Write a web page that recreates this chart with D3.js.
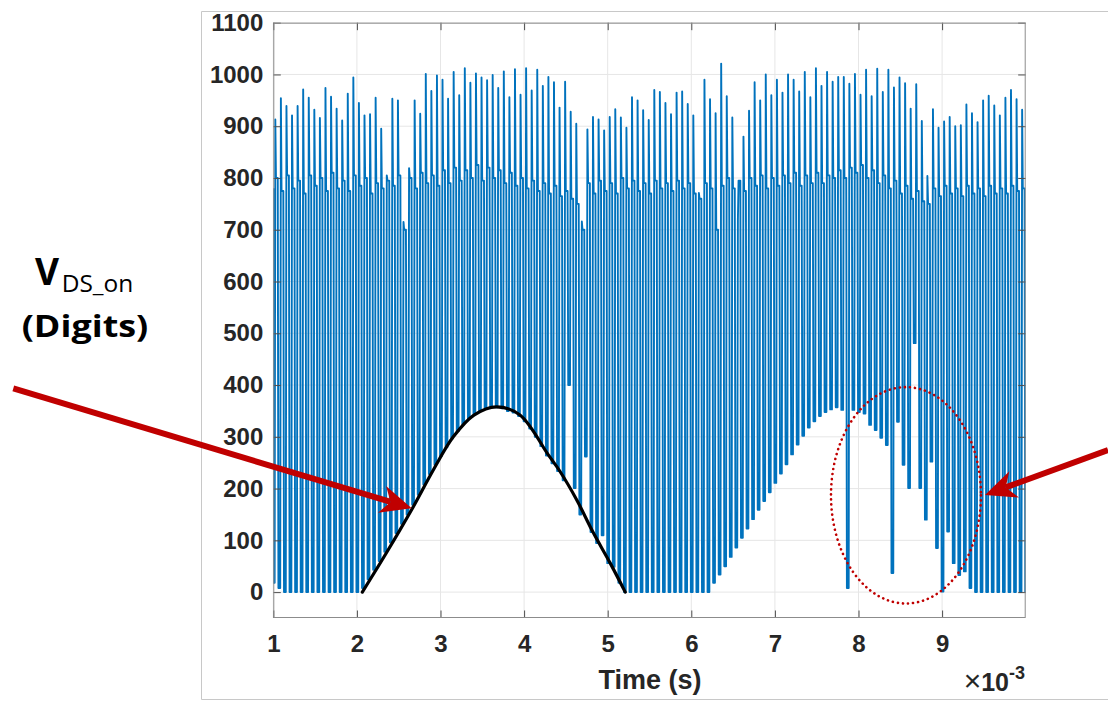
<!DOCTYPE html>
<html>
<head>
<meta charset="utf-8">
<script src="https://cdn.jsdelivr.net/npm/d3@7"></script>
<style>
  html, body { margin: 0; padding: 0; background: #ffffff; }
  svg { display: block; }
</style>
</head>
<body>
<svg id="chart" width="1108" height="701"></svg>
<script>
// ---- switching waveform: one spike per 15 kHz period (time in ms) ----
const startTime = 1.0;          // first sample, ms
const startValue = 780;         // level at the first sample
const firstDropTime = 1.006;    // first turn-on edge, ms
const firstPeakTime = 1.024;    // ms
const switchPeriod = 1 / 15;    // ms (15 kHz)
const endTime = 10.0;

// overshoot peak of every switching event
const peaks = [
  913, 954, 939, 921, 939, 971, 955, 932, 916, 974, 957, 934, 911, 963, 994, 945, 921, 923, 955, 895,
  805, 953, 950, 715, 819, 950, 924, 1001, 968, 998, 990, 953, 1005,
  960, 1012, 984, 1002, 994, 989, 999, 974, 1006, 956, 1010, 961, 1012, 969, 1009, 978, 995, 985,
  936, 986, 928, 905, 716, 894, 918, 913, 892, 918, 933, 917, 897, 956, 950, 931, 912, 970, 966,
  945, 923, 965, 967, 943, 921, 771, 990, 952, 925, 1021, 958, 917, 720,
  880, 930, 985, 950, 1000, 960, 990,
  965, 1000, 990, 967, 1005, 956, 1012, 978, 1005, 986, 995, 995, 982, 1001, 961, 1009, 958, 1011,
  966, 1009, 975, 994, 983, 934, 981, 910, 804, 933, 897, 909, 918, 900, 902, 942, 925, 908, 950,
  959, 940, 921, 955, 970, 952, 932
];

// on-state level (V_DS_on) reached before each switching event
const floors = [
  18, 8, 0, 0, 0, 0, 0, 0, 0, 0, 0, 0, 0, 0, 0, 0,
  8, 25, 43, 60, 78, 96, 114, 132, 150, 169, 188, 208, 228, 246, 263, 280, 297, 311, 324, 335,
  344, 350, 355, 357, 357, 355, 350, 347, 340, 330, 316, 300, 282, 264, 249, 234, 216, 400, 201,
  150, 262, 116, 95, 110, 56, 49, 18,
  0, 0, 0, 0, 0, 0, 0, 0, 0, 0, 0, 0, 0, 0, 0, 0,
  18, 34, 50, 68, 86, 105, 123, 141, 159, 176, 193, 211, 229, 247, 266, 285, 302, 318, 330, 340,
  348, 353, 357, 352,
  8, 352, 348, 345, 323, 313, 298, 284, 37, 329, 246, 201, 481, 201, 140, 252, 85, 1, 117, 56,
  33, 40, 8,
  0, 0, 0, 0, 0, 0, 0, 0, 0
];
const finalFloor = 0;

// off-state plateau after each overshoot (ringing)
const plateaus = [
  800, 775, 805, 780, 795, 770, 805, 785, 800, 775, 810, 780, 795, 775, 805, 785, 800, 770, 790, 780,
  795, 785, 805, 700, 800, 780, 810, 790, 805, 785, 815, 790, 820, 795, 815, 800, 825, 795, 820, 800,
  815, 790, 810, 785, 800, 780, 795, 775, 790, 770, 785, 765, 775, 760, 750,
  700,
  790, 770, 795, 775, 790, 770, 800, 780, 795, 775, 790, 770, 795, 780, 790, 775, 795, 780, 790, 770,
  760, 790, 780, 700,
  785, 800, 780, 795, 775, 800, 785, 805, 780, 800, 785, 805, 790, 810, 785, 805, 790, 810, 790, 805,
  800, 815, 800, 820,
  810, 825, 800, 815, 790, 805, 780, 795, 770, 785, 760, 775, 755, 750,
  780, 765, 785, 770, 780, 765, 785, 770, 780, 765, 785, 770, 780, 770, 785, 775, 780
];

// hand-drawn envelope of the on-state voltage
const envelopeTime  = [2.065, 2.35, 2.675, 2.914, 3.153, 3.40, 3.67, 3.95, 4.29, 4.43, 4.63, 4.83, 5.03, 5.21];
const envelopeValue = [0, 75, 165, 236, 300, 342, 358, 342, 265, 233, 178, 114, 56, 0];

// highlighted irregular region (centre and half-axes in data units)
const highlightCenter = [8.568, 187];
const highlightRadius = [0.897, 209];

const xTicks = [1, 2, 3, 4, 5, 6, 7, 8, 9];
const yTicks = [0, 100, 200, 300, 400, 500, 600, 700, 800, 900, 1000, 1100];

// ---- layout ----
const svg = d3.select("#chart");
const plot = { left: 273.3, right: 1025.7, top: 22.7, bottom: 618 };
const x = d3.scaleLinear().domain([1, 10]).range([plot.left, plot.right]);
const y = d3.scaleLinear().domain([-50, 1100]).range([plot.bottom, plot.top]);

const darkRed = "#c00000";
const blue = "#0072bd";
const tickFont = "'Liberation Sans', Arial, Helvetica, sans-serif";

// figure frame
svg.append("path")
  .attr("d", "M201.5,11.5H1108M201.5,11.5V699.5M201.5,699.5H1108")
  .attr("fill", "none").attr("stroke", "#c8c8c8").attr("stroke-width", 1);

// grid
const grid = svg.append("g");
grid.selectAll("line.gx").data(xTicks).join("line")
  .attr("x1", d => x(d)).attr("x2", d => x(d))
  .attr("y1", plot.top).attr("y2", plot.bottom)
  .attr("stroke", "#e6e6e6").attr("stroke-width", 1);
grid.selectAll("line.gy").data(yTicks).join("line")
  .attr("x1", plot.left).attr("x2", plot.right)
  .attr("y1", d => y(d)).attr("y2", d => y(d))
  .attr("stroke", "#e6e6e6").attr("stroke-width", 1);

// waveform: rise to the overshoot, settle on the plateau, drop to the on-state level
const edge = 0.008;       // rise / fall duration, ms
const dropEdge = 0.004;   // half of the turn-on edge, ms
const samples = [[startTime, startValue], [firstDropTime, floors[0]]];
peaks.forEach((pk, i) => {
  const p = firstPeakTime + i * switchPeriod;
  const nextFloor = i + 1 < floors.length ? floors[i + 1] : finalFloor;
  samples.push([p - edge, floors[i]]);
  samples.push([p, pk]);
  samples.push([p + edge, plateaus[i]]);
  samples.push([p + switchPeriod / 2 - dropEdge, plateaus[i]]);
  samples.push([p + switchPeriod / 2 + dropEdge, nextFloor]);
});
samples.push([endTime, finalFloor]);

svg.append("clipPath").attr("id", "plotClip")
  .append("rect")
  .attr("x", plot.left).attr("y", plot.top)
  .attr("width", plot.right - plot.left).attr("height", plot.bottom - plot.top);

svg.append("path")
  .datum(samples)
  .attr("clip-path", "url(#plotClip)")
  .attr("fill", "none")
  .attr("stroke", blue)
  .attr("stroke-width", 1.9)
  .attr("stroke-linejoin", "round")
  .attr("d", d3.line().x(d => x(d[0])).y(d => y(d[1])));

// axes (ticks pointing inward, box all round)
function styleAxis(g, showLabels) {
  g.select(".domain").remove();
  g.selectAll(".tick line").attr("stroke", "#4d4d4d").attr("stroke-width", 1);
  g.selectAll(".tick text")
    .attr("fill", "#262626")
    .attr("font-family", tickFont)
    .attr("font-weight", "bold")
    .attr("font-size", 24)
    .style("display", showLabels ? null : "none");
}
svg.append("g").attr("transform", `translate(0,${plot.bottom})`)
  .call(d3.axisBottom(x).tickValues(xTicks).tickSizeInner(-7.5).tickSizeOuter(0).tickPadding(17).tickFormat(d3.format("d")))
  .call(g => styleAxis(g, true));
svg.append("g").attr("transform", `translate(0,${plot.top})`)
  .call(d3.axisTop(x).tickValues(xTicks).tickSizeInner(-7.5).tickSizeOuter(0))
  .call(g => styleAxis(g, false));
svg.append("g").attr("transform", `translate(${plot.left},0)`)
  .call(d3.axisLeft(y).tickValues(yTicks).tickSizeInner(-7.5).tickSizeOuter(0).tickPadding(10).tickFormat(d3.format("d")))
  .call(g => styleAxis(g, true));
svg.append("g").attr("transform", `translate(${plot.right},0)`)
  .call(d3.axisRight(y).tickValues(yTicks).tickSizeInner(-7.5).tickSizeOuter(0))
  .call(g => styleAxis(g, false));

svg.append("rect")
  .attr("x", plot.left + 0.5).attr("y", plot.top + 0.5)
  .attr("width", plot.right - plot.left - 1).attr("height", plot.bottom - plot.top - 1)
  .attr("fill", "none").attr("stroke", "#8c8c8c").attr("stroke-width", 1);

// envelope curve
svg.append("path")
  .datum(envelopeTime.map((t, i) => [t, envelopeValue[i]]))
  .attr("fill", "none").attr("stroke", "#000").attr("stroke-width", 3.2)
  .attr("stroke-linecap", "round")
  .attr("d", d3.line().x(d => x(d[0])).y(d => y(d[1])).curve(d3.curveCatmullRom));

// axis titles
svg.append("text")
  .attr("x", 650).attr("y", 689)
  .attr("text-anchor", "middle")
  .attr("font-family", tickFont).attr("font-weight", "bold").attr("font-size", 27)
  .attr("fill", "#262626")
  .text("Time (s)");

const exp = svg.append("text")
  .attr("x", 1025).attr("y", 691)
  .attr("text-anchor", "end")
  .attr("font-family", tickFont).attr("fill", "#262626");
exp.append("tspan").attr("font-size", 30).attr("font-weight", "normal").text("×");
exp.append("tspan").attr("font-size", 25).attr("font-weight", "bold").text("10");
exp.append("tspan").attr("font-size", 18).attr("font-weight", "bold").attr("dy", -12).text("-3");

// V_DS_on label
const labelFont = "'Open Sans', 'Noto Sans', sans-serif";
svg.append("text")
  .attr("x", 35).attr("y", 285)
  .attr("font-family", labelFont).attr("font-weight", "bold").attr("font-size", 37)
  .attr("fill", "#000")
  .text("V");
svg.append("text")
  .attr("x", 61.7).attr("y", 291.7)
  .attr("font-family", labelFont).attr("font-weight", "normal").attr("font-size", 23)
  .attr("textLength", 71.6).attr("lengthAdjust", "spacingAndGlyphs")
  .attr("fill", "#000")
  .text("DS_on");
svg.append("text")
  .attr("x", 21.7).attr("y", 337.3)
  .attr("font-family", labelFont).attr("font-weight", "bold").attr("font-size", 31)
  .attr("textLength", 126.6).attr("lengthAdjust", "spacingAndGlyphs")
  .attr("fill", "#000")
  .text("(Digits)");

// pointer arrows
function arrow(tail, tip, halfWidth, headLen, notch) {
  const dx = tip[0] - tail[0], dy = tip[1] - tail[1];
  const len = Math.hypot(dx, dy);
  const ux = dx / len, uy = dy / len, nx = -uy, ny = ux;
  const base = [tip[0] - ux * headLen, tip[1] - uy * headLen];
  const inner = [tip[0] - ux * (headLen - notch), tip[1] - uy * (headLen - notch)];
  svg.append("line")
    .attr("x1", tail[0]).attr("y1", tail[1])
    .attr("x2", inner[0]).attr("y2", inner[1])
    .attr("stroke", darkRed).attr("stroke-width", 6);
  svg.append("path")
    .attr("d", `M${tip}L${base[0] + nx * halfWidth},${base[1] + ny * halfWidth}` +
               `L${inner}L${base[0] - nx * halfWidth},${base[1] - ny * halfWidth}Z`)
    .attr("fill", darkRed);
}
arrow([13.3, 388.3], [411.7, 508.3], 14, 31, 9);
arrow([1108, 450], [985, 495], 14, 31, 9);

// dotted highlight ellipse
svg.append("ellipse")
  .attr("cx", x(highlightCenter[0])).attr("cy", y(highlightCenter[1]))
  .attr("rx", x(highlightCenter[0] + highlightRadius[0]) - x(highlightCenter[0]))
  .attr("ry", y(highlightCenter[1]) - y(highlightCenter[1] + highlightRadius[1]))
  .attr("fill", "none").attr("stroke", darkRed).attr("stroke-width", 2.6)
  .attr("stroke-dasharray", "0.1 5").attr("stroke-linecap", "round");
</script>
</body>
</html>
